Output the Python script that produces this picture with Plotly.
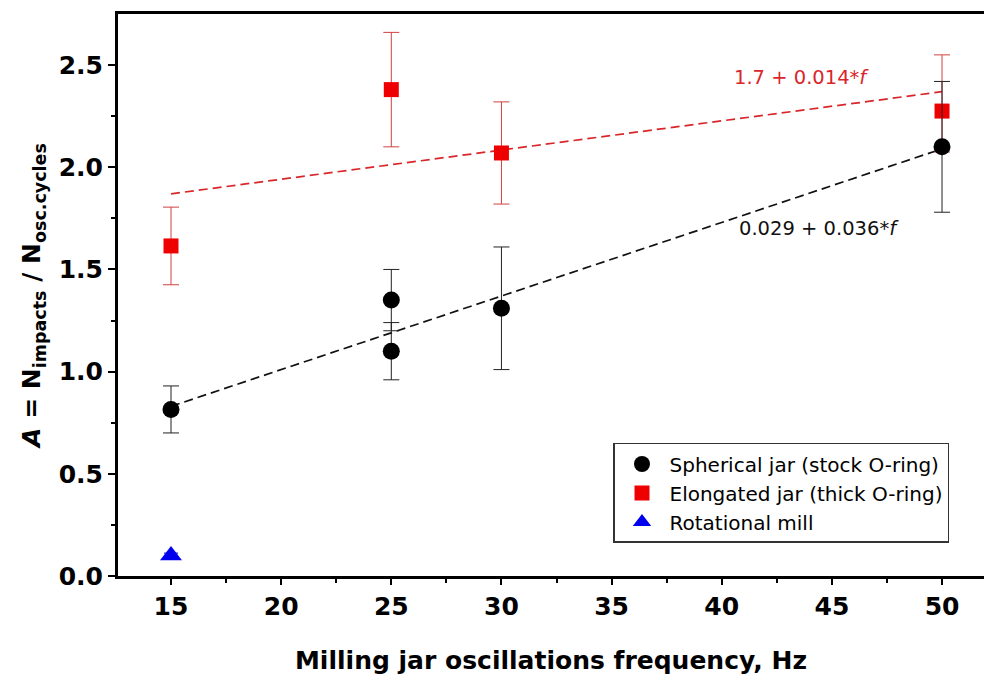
import plotly.graph_objects as go

# Data
freq_sph = [15, 25, 25, 30, 50]
a_sph = [0.815, 1.35, 1.10, 1.31, 2.10]
err_sph = [0.115, 0.15, 0.14, 0.30, 0.32]

freq_elo = [15, 25, 30, 50]
a_elo = [1.615, 2.38, 2.07, 2.275]
err_elo_plus = [0.19, 0.28, 0.25, 0.275]
err_elo_minus = [0.19, 0.28, 0.25, 0.20]

freq_rot = [15]
a_rot = [0.10]
err_rot = [0.012]

fit_x = [15, 50]
fit_sph = [0.83, 2.09]
fit_elo = [1.87, 2.37]

fit_label_elo = "1.7 + 0.014*<i>f</i>"
fit_label_sph = "0.029 + 0.036*<i>f</i>"

FONT = "DejaVu Sans, Arial, sans-serif"

fig = go.Figure()

fig.add_trace(go.Scatter(x=fit_x, y=fit_elo, mode="lines",
                         line=dict(color="#d9262b", width=1.7, dash="9px,5px"),
                         showlegend=False, hoverinfo="skip"))
fig.add_trace(go.Scatter(x=fit_x, y=fit_sph, mode="lines",
                         line=dict(color="#111111", width=1.7, dash="9px,5px"),
                         showlegend=False, hoverinfo="skip"))

fig.add_trace(go.Scatter(x=freq_elo, y=a_elo, mode="markers",
                         name="Elongated jar (thick O-ring)", legendrank=2,
                         marker=dict(symbol="square", size=15, color="#ee0000"),
                         error_y=dict(type="data", symmetric=False,
                                      array=err_elo_plus, arrayminus=err_elo_minus,
                                      color="#d04040", thickness=1, width=8)))
fig.add_trace(go.Scatter(x=freq_sph, y=a_sph, mode="markers",
                         name="Spherical jar (stock O-ring)", legendrank=1,
                         marker=dict(symbol="circle", size=17, color="black"),
                         error_y=dict(type="data", array=err_sph, color="#222222",
                                      thickness=1, width=8)))
fig.add_trace(go.Scatter(x=freq_rot, y=a_rot, mode="markers",
                         name="Rotational mill", legendrank=3,
                         marker=dict(symbol="triangle-up", size=19, color="#0000ee"),
                         error_y=dict(type="data", array=err_rot, color="#0000aa",
                                      thickness=1, width=7)))

fig.add_annotation(x=43.6, y=2.44, text=fit_label_elo, showarrow=False,
                   font=dict(family=FONT, size=19.5, color="#d9262b"))
fig.add_annotation(x=44.4, y=1.70, text=fit_label_sph, showarrow=False,
                   font=dict(family=FONT, size=19.5, color="#111111"))

fig.update_layout(
    width=984, height=676,
    margin=dict(l=118, r=0, t=14, b=100),
    plot_bgcolor="white", paper_bgcolor="white",
    font=dict(family=FONT, color="black"),
    legend=dict(x=0.5716, y=0.2367, xanchor="left", yanchor="top",
                bordercolor="#333333", borderwidth=1.5, bgcolor="white",
                font=dict(family=FONT, size=20), itemsizing="trace",
                itemwidth=45, tracegroupgap=0),
    xaxis=dict(
        range=[12.594, 51.905], tickvals=[15, 20, 25, 30, 35, 40, 45, 50],
        showgrid=False, zeroline=False,
        showline=True, linecolor="black", linewidth=3, mirror=True,
        ticks="outside", ticklen=6, tickwidth=2, tickcolor="black",
        minor=dict(tickvals=[17.5, 22.5, 27.5, 32.5, 37.5, 42.5, 47.5],
                   ticks="outside", ticklen=4, tickwidth=2, tickcolor="black"),
        tickfont=dict(family=FONT, size=25, weight="bold"),
        title=dict(text="Milling jar oscillations frequency, Hz",
                   font=dict(family=FONT, size=25, weight="bold"), standoff=32),
    ),
    yaxis=dict(
        range=[0, 2.75], tickvals=[0, 0.5, 1.0, 1.5, 2.0, 2.5],
        ticktext=["0.0", "0.5", "1.0", "1.5", "2.0", "2.5"],
        showgrid=False, zeroline=False,
        showline=True, linecolor="black", linewidth=3, mirror=False,
        ticks="outside", ticklen=7, tickwidth=2, tickcolor="black",
        minor=dict(tickvals=[0.25, 0.75, 1.25, 1.75, 2.25],
                   ticks="outside", ticklen=4, tickwidth=2, tickcolor="black"),
        tickfont=dict(family=FONT, size=25, weight="bold"),
        title=dict(text="<i>A</i> = N<sub>impacts</sub> / N<sub>osc.cycles</sub>",
                   font=dict(family=FONT, size=25, weight="bold"), standoff=11),
    ),
)

fig.write_html("out.html")
